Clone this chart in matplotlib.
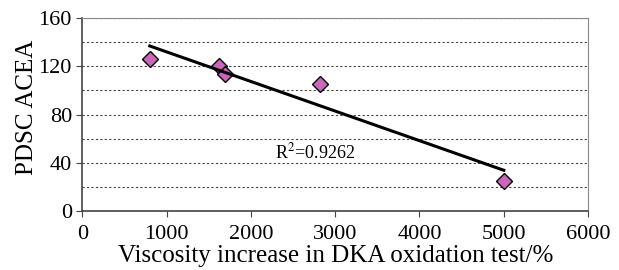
import numpy as np
import matplotlib.pyplot as plt

plt.rcParams['font.family'] = ['Liberation Serif', 'DejaVu Serif']

# viscosity increase (%) vs PDSC ACEA
viscosity = [800, 1620, 1690, 2820, 5000]
acea = [126, 120, 114, 105, 25]
r2_label = "R$^2$=0.9262"

fig, ax = plt.subplots(figsize=(6.19, 2.70), dpi=100)
fig.subplots_adjust(left=0.133, right=0.95, top=0.933, bottom=0.218)

# linear trend line over the data span
k, b = np.polyfit(viscosity, acea, 1)
xs = np.array([min(viscosity), max(viscosity)])

ax.plot(viscosity, acea, linestyle='none', marker='D', markersize=8.3,
        markerfacecolor='#cc66bb', markeredgecolor='black', markeredgewidth=1.0, zorder=3)
ax.plot(xs, k * xs + b, color='black', linewidth=2.2, zorder=4)

ax.text(2760, 49, r2_label, fontsize=13, ha='center', va='center',
        math_fontfamily='stix')

ax.set_xlim(0, 6000)
ax.set_ylim(0, 160)
ax.set_xticks(range(0, 6001, 1000))
ax.set_yticks(range(0, 161, 40))
ax.set_yticks(range(20, 160, 20), minor=True)
ax.yaxis.grid(True, which='both', linestyle=(0, (2, 2)), color='#444444', linewidth=0.8)
ax.set_axisbelow(True)

for side in ['top', 'right']:
    ax.spines[side].set_color('#888888')
for side in ['left', 'bottom']:
    ax.spines[side].set_color('#444444')
    ax.spines[side].set_linewidth(1.2)

ax.tick_params(axis='both', which='major', direction='out', length=4,
               color='#444444', labelsize=16)
ax.tick_params(axis='x', which='major', pad=6)
ax.tick_params(axis='y', which='minor', length=0)

ax.set_xlabel("Viscosity increase in DKA oxidation test/%", fontsize=18, va='center')
ax.set_ylabel("PDSC ACEA", fontsize=18, va='center')
ax.xaxis.set_label_coords(0.5, -0.233)
ax.yaxis.set_label_coords(-0.109, 0.54)

fig.savefig("out.png", dpi=100)
